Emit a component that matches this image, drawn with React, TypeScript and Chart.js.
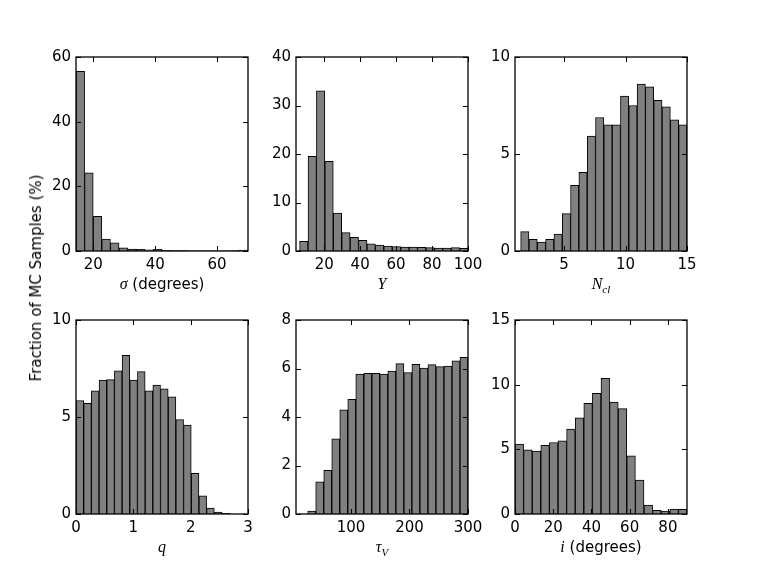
import React, { useEffect, useRef } from 'react';
import { Chart, registerables } from 'chart.js';
Chart.register(...registerables);

// ---------- data ----------
// sigma (degrees)
const sigmaBinStart = 14.4;
const sigmaBinWidth = 2.78;
const sigmaValues = [55.6, 24.2, 10.7, 3.7, 2.5, 1.0, 0.6, 0.5, 0.4, 0.5, 0.2, 0.15, 0.1, 0.05, 0.05, 0.05, 0.05, 0.05, 0.1, 0.3];
const sigmaXTicks = [20, 40, 60];
const sigmaYTicks = [0, 20, 40, 60];

// Y
const yBinStart = 6.3;
const yBinWidth = 4.685;
const yValues = [2.0, 19.5, 33.0, 18.5, 7.8, 3.8, 2.8, 2.2, 1.5, 1.2, 1.0, 0.9, 0.8, 0.8, 0.75, 0.7, 0.6, 0.6, 0.7, 0.55];
const yXTicks = [20, 40, 60, 80, 100];
const yYTicks = [0, 10, 20, 30, 40];

// N_cl
const nclBinStart = 1.46;
const nclBinWidth = 0.677;
const nclValues = [1.0, 0.6, 0.46, 0.6, 0.87, 1.93, 3.39, 4.06, 5.92, 6.88, 6.5, 6.5, 7.98, 7.5, 8.6, 8.46, 7.77, 7.43, 6.76, 6.5];
const nclXTicks = [5, 10, 15];
const nclYTicks = [0, 5, 10];

// q
const qBinStart = 0;
const qBinWidth = 0.134;
const qValues = [5.85, 5.7, 6.35, 6.9, 6.93, 7.38, 8.18, 6.9, 7.34, 6.35, 6.64, 6.45, 6.04, 4.87, 4.58, 2.1, 0.94, 0.3, 0.1, 0.03];
const qXTicks = [0, 1, 2, 3];
const qYTicks = [0, 5, 10];

// tau_V
const tauBinStart = 26;
const tauBinWidth = 13.7;
const tauValues = [0.12, 1.33, 1.8, 3.1, 4.3, 4.73, 5.77, 5.8, 5.8, 5.77, 5.89, 6.2, 5.83, 6.17, 6.02, 6.16, 6.08, 6.1, 6.32, 6.46];
const tauXTicks = [100, 200, 300];
const tauYTicks = [0, 2, 4, 6, 8];

// i (degrees)
const incBinStart = 0;
const incBinWidth = 4.5;
const incValues = [5.4, 4.96, 4.86, 5.3, 5.53, 5.66, 6.56, 7.43, 8.56, 9.33, 10.49, 8.66, 8.15, 4.5, 2.62, 0.69, 0.28, 0.23, 0.39, 0.36];
const incXTicks = [0, 20, 40, 60, 80];
const incYTicks = [0, 5, 10, 15];

const yAxisTitle = 'Fraction of MC Samples (%)';

// ---------- styles / layout ----------
const SANS = '"DejaVu Sans"';
const MATH = 'italic 16px "Liberation Serif"';
const MATH_SUB = 'italic 11px "Liberation Serif"';
const TXT = '15px "DejaVu Sans"';

type Seg = { t: string; f: string; dy?: number };

const AX_W = 50;
const AX_H = 50;
const PAD_T = 15;
const PAD_R = 25;
const PW = 172;
const PH = 194;

const panels = [
  { start: sigmaBinStart, width: sigmaBinWidth, values: sigmaValues, xMin: 14.4, xMax: 70, yMax: 60, xTicks: sigmaXTicks, yTicks: sigmaYTicks,
    label: [{ t: 'σ', f: MATH }, { t: ' (degrees)', f: TXT }] as Seg[], left: 76, top: 57 },
  { start: yBinStart, width: yBinWidth, values: yValues, xMin: 4.3, xMax: 100, yMax: 40, xTicks: yXTicks, yTicks: yYTicks,
    label: [{ t: 'Y', f: MATH }] as Seg[], left: 295.5, top: 57 },
  { start: nclBinStart, width: nclBinWidth, values: nclValues, xMin: 1, xMax: 15, yMax: 10, xTicks: nclXTicks, yTicks: nclYTicks,
    label: [{ t: 'N', f: MATH }, { t: 'cl', f: MATH_SUB, dy: 4 }] as Seg[], left: 515, top: 57 },
  { start: qBinStart, width: qBinWidth, values: qValues, xMin: 0, xMax: 3, yMax: 10, xTicks: qXTicks, yTicks: qYTicks,
    label: [{ t: 'q', f: MATH }] as Seg[], left: 76, top: 320 },
  { start: tauBinStart, width: tauBinWidth, values: tauValues, xMin: 6, xMax: 300, yMax: 8, xTicks: tauXTicks, yTicks: tauYTicks,
    label: [{ t: 'τ', f: MATH }, { t: 'V', f: MATH_SUB, dy: 4 }] as Seg[], left: 295.5, top: 320 },
  { start: incBinStart, width: incBinWidth, values: incValues, xMin: 0, xMax: 90, yMax: 15, xTicks: incXTicks, yTicks: incYTicks,
    label: [{ t: 'i', f: MATH }, { t: ' (degrees)', f: TXT }] as Seg[], left: 515, top: 320 },
];

type P = typeof panels[number];

function Panel({ p }: { p: P }) {
  const ref = useRef<HTMLCanvasElement>(null);
  useEffect(() => {
    if (!ref.current) return;
    const data = p.values.map((v, i) => ({ x: p.start + (i + 0.5) * p.width, y: v }));
    const framePlugin = {
      id: 'frame',
      afterDraw(chart: any) {
        const { ctx, chartArea: a, scales } = chart;
        const xs = scales.x;
        const ys = scales.y;
        ctx.save();
        ctx.strokeStyle = '#000';
        ctx.lineWidth = 1;
        const tl = 5;
        ctx.beginPath();
        xs.ticks.forEach((t: any) => {
          const px = Math.round(xs.getPixelForValue(t.value)) + 0.5;
          ctx.moveTo(px, a.bottom);
          ctx.lineTo(px, a.bottom - tl);
          ctx.moveTo(px, a.top);
          ctx.lineTo(px, a.top + tl);
        });
        ys.ticks.forEach((t: any) => {
          const py = Math.round(ys.getPixelForValue(t.value)) + 0.5;
          ctx.moveTo(a.left, py);
          ctx.lineTo(a.left + tl, py);
          ctx.moveTo(a.right, py);
          ctx.lineTo(a.right - tl, py);
        });
        ctx.stroke();
        ctx.lineWidth = 1.3;
        ctx.strokeRect(a.left, a.top, a.right - a.left, a.bottom - a.top);
        // x label with mixed fonts
        let total = 0;
        const widths = p.label.map((s) => {
          ctx.font = s.f;
          const w = ctx.measureText(s.t).width;
          total += w;
          return w;
        });
        let cx = (a.left + a.right) / 2 - total / 2;
        const base = a.bottom + 37.5;
        ctx.fillStyle = '#000';
        ctx.textBaseline = 'alphabetic';
        ctx.textAlign = 'left';
        p.label.forEach((s, i) => {
          ctx.font = s.f;
          ctx.fillText(s.t, cx, base + (s.dy || 0));
          cx += widths[i];
        });
        ctx.restore();
      },
    };
    const tickFont = { family: SANS, size: 15 };
    const chart = new Chart(ref.current, {
      type: 'bar',
      data: {
        datasets: [
          {
            data,
            backgroundColor: '#808080',
            borderColor: '#000',
            borderWidth: 1,
            barPercentage: 1,
            categoryPercentage: 1,
          } as any,
        ],
      },
      options: {
        animation: false,
        responsive: false,
        devicePixelRatio: 1,
        layout: { padding: { left: 0, top: PAD_T, right: PAD_R, bottom: 0 } },
        plugins: { legend: { display: false }, tooltip: { enabled: false } },
        scales: {
          x: {
            type: 'linear',
            offset: false,
            min: p.xMin,
            max: p.xMax,
            grid: { display: false, drawTicks: false, offset: false },
            border: { display: false },
            ticks: { autoSkip: false, maxRotation: 0, padding: 5, font: tickFont, color: '#000' },
            afterBuildTicks: (s: any) => {
              s.ticks = p.xTicks.map((v) => ({ value: v }));
            },
            afterFit: (s: any) => {
              s.height = AX_H;
            },
          },
          y: {
            type: 'linear',
            min: 0,
            max: p.yMax,
            grid: { display: false, drawTicks: false },
            border: { display: false },
            ticks: { autoSkip: false, padding: 5, font: tickFont, color: '#000' },
            afterBuildTicks: (s: any) => {
              s.ticks = p.yTicks.map((v) => ({ value: v }));
            },
            afterFit: (s: any) => {
              s.width = AX_W;
            },
          },
        },
      } as any,
      plugins: [framePlugin],
    });
    return () => chart.destroy();
  }, []);
  const W = AX_W + PW + PAD_R;
  const H = PAD_T + PH + AX_H;
  return (
    <canvas
      ref={ref}
      width={W}
      height={H}
      style={{ position: 'absolute', left: p.left - AX_W, top: p.top - PAD_T, width: W, height: H }}
    />
  );
}

export default function App() {
  return (
    <div style={{ position: 'fixed', left: 0, top: 0, width: 763, height: 572, background: '#fff', overflow: 'hidden' }}>
      {panels.map((p, i) => (
        <Panel key={i} p={p} />
      ))}
      <div
        style={{
          position: 'absolute',
          left: 36,
          top: 278,
          transform: 'translate(-50%, -50%) rotate(-90deg)',
          whiteSpace: 'nowrap',
          font: TXT,
          color: '#000',
        }}
      >
        {yAxisTitle}
      </div>
    </div>
  );
}
